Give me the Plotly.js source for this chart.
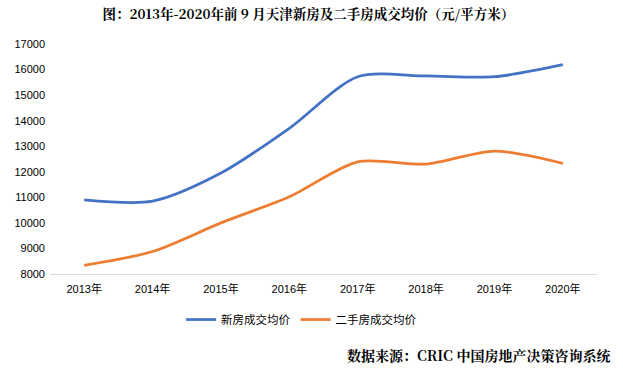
<!DOCTYPE html>
<html><head><meta charset="utf-8">
<script src="https://cdn.plot.ly/plotly-3.0.1.min.js"></script>
<style>body{margin:0;background:#fff}#c{width:623px;height:371px}</style>
</head><body><div id="c"></div>
<script>
const years = ["2013年","2014年","2015年","2016年","2017年","2018年","2019年","2020年"];
const newHome = [10900, 10850, 11950, 13700, 15720, 15750, 15720, 16190];
const resale = [8340, 8880, 10000, 11020, 12390, 12300, 12810, 12330];
const seriesNames = ["新房成交均价", "二手房成交均价"];
const yTicks = [8000, 9000, 10000, 11000, 12000, 13000, 14000, 15000, 16000, 17000];

const traces = [
  {x: years, y: newHome, name: seriesNames[0], type: "scatter", mode: "lines",
   line: {color: "#4472C4", width: 2.75, shape: "spline", smoothing: 0.8}},
  {x: years, y: resale, name: seriesNames[1], type: "scatter", mode: "lines",
   line: {color: "#ED7D31", width: 2.75, shape: "spline", smoothing: 0.8}}
];
const layout = {
  width: 623, height: 371,
  margin: {l: 50, r: 26, t: 44, b: 97},
  paper_bgcolor: "#fff", plot_bgcolor: "#fff",
  font: {family: "Liberation Sans, Noto Sans CJK SC, sans-serif", color: "#000", size: 11},
  title: {text: "<b>图：2013年-2020年前 9 月天津新房及二手房成交均价（元/平方米）</b>",
    x: 0.495, xanchor: "center", y: 0.962, yanchor: "middle",
    font: {family: "Noto Serif CJK SC, Noto Sans CJK SC, serif", size: 13.5, color: "#000"}},
  xaxis: {type: "category", showgrid: false, showline: true, linecolor: "#d9d9d9", linewidth: 1,
    ticks: "", ticklabelstandoff: 5, tickfont: {size: 11, color: "#000"}, range: [-0.5, 7.5]},
  yaxis: {range: [8000, 17000], tickvals: yTicks, tickformat: "d", showgrid: false, zeroline: false,
    showline: false, ticks: "", ticklabelstandoff: 4, tickfont: {size: 11, color: "#000"}},
  showlegend: true,
  legend: {orientation: "h", x: 0.46, xanchor: "center", y: -0.135, yanchor: "top",
    font: {size: 11.5, color: "#000"}, itemwidth: 30, traceorder: "normal"},
  annotations: [{text: "<b>数据来源：CRIC 中国房地产决策咨询系统</b>", xref: "paper", yref: "paper",
    x: 1.03, xanchor: "right", y: -0.35, yanchor: "middle", showarrow: false,
    font: {family: "Noto Serif CJK SC, Noto Sans CJK SC, serif", size: 14, color: "#000"}}]
};
Plotly.newPlot("c", traces, layout, {displayModeBar: false, staticPlot: true});
</script></body></html>
